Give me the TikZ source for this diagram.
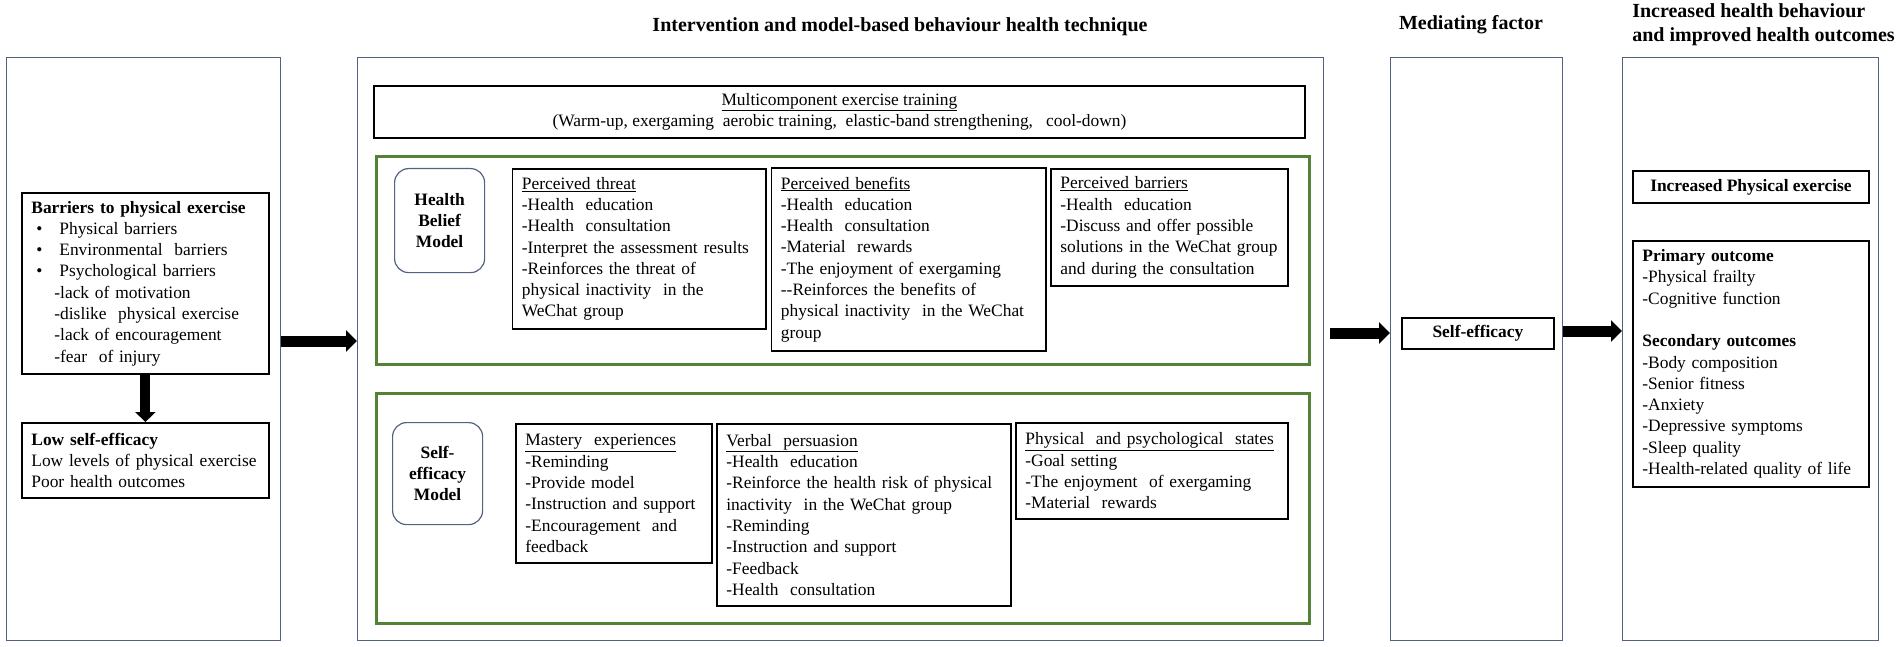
\documentclass[tikz,border=0pt]{standalone}
\usepackage{fontspec}
\setmainfont{Liberation Serif}
\usetikzlibrary{arrows.meta}
\definecolor{slate}{RGB}{84,98,130}
\definecolor{hgreen}{RGB}{84,130,53}
\newcommand\bodyf{\fontsize{17.4}{21.3}\selectfont\hyphenpenalty=10000\exhyphenpenalty=10000}
\newcommand\titlef{\fontsize{20}{24}\selectfont\bfseries}
\newcommand\bul[1]{\hspace*{5pt}\makebox[23pt][l]{\textbullet}#1}
\newcommand\subi[1]{\hspace*{23pt}#1}
\begin{document}
\begin{tikzpicture}[x=1pt,y=-1pt,
  outerbox/.style={draw=slate,line width=1.2pt,inner sep=0pt,anchor=north west},
  greenbox/.style={draw=hgreen,line width=3pt,inner sep=0pt,anchor=north west},
  blkbox/.style={draw=black,line width=1.8pt,align=left,inner xsep=9.5pt,inner ysep=0pt,font=\bodyf,anchor=north west},
  ctrbox/.style={draw=black,line width=1.8pt,align=center,inner sep=0pt,font=\bodyf,anchor=north west},
  modelbox/.style={draw=slate,line width=1.2pt,rounded corners=14pt,align=center,inner sep=0pt,font=\bodyf\bfseries,anchor=north west},
  titlenode/.style={font=\titlef,inner sep=0pt},
  blockarrow/.style={line width=11pt,-{Triangle[width=21pt,length=11pt]}},
  blockarrowv/.style={line width=10pt,-{Triangle[width=20pt,length=10pt]}}
]
\useasboundingbox (0,0) rectangle (1902,647);

% titles
\node[titlenode] (t1) at (900,27) {Intervention and model-based behaviour health technique};
\node[titlenode] (t2) at (1471,25) {Mediating factor};
\node[titlenode,align=left] (t3) at (1763.5,25) {Increased health behaviour\\and improved health outcomes};

% outer boxes
\node[outerbox,minimum width=274pt,minimum height=583pt] (boxA) at (6,57) {};
\node[outerbox,minimum width=966pt,minimum height=583pt] (boxB) at (357,57) {};
\node[outerbox,minimum width=172pt,minimum height=583pt] (boxC) at (1390,57) {};
\node[outerbox,minimum width=256pt,minimum height=583pt] (boxD) at (1622,57) {};

% box A
\node[blkbox,text width=228pt,minimum height=181pt] (barriers) at (21,192) {%
\textbf{Barriers to physical exercise}\\
\bul{Physical barriers}\\
\bul{Environmental\ \ barriers}\\
\bul{Psychological barriers}\\
\subi{-lack of motivation}\\
\subi{-dislike\ \ physical exercise}\\
\subi{-lack of encouragement}\\
\subi{-fear\ \ of injury}};
\node[blkbox,text width=228pt,minimum height=75pt] (lowse) at (21,422) {%
\textbf{Low self-efficacy}\\
Low levels of physical exercise\\
Poor health outcomes};

% box B
\node[ctrbox,minimum width=931pt,minimum height=52pt] (multi) at (373,85) {%
\underline{Multicomponent exercise training}\\
(Warm-up, exergaming\ \ aerobic training,\ \ elastic-band strengthening,\ \ \ cool-down)};

\node[greenbox,minimum width=933pt,minimum height=208pt] (hbm) at (375,155) {};
\node[modelbox,minimum width=90pt,minimum height=104pt] (hbmmodel) at (394,168) {Health\\Belief\\Model};
\node[blkbox,text width=234.5pt,minimum height=160pt] (threat) at (511.5,168) {%
\underline{Perceived threat}\\
-Health\ \ education\\
-Health\ \ consultation\\
-Interpret the assessment results\\
-Reinforces the threat of\\
physical inactivity\ \ in the\\
WeChat group};
\node[blkbox,text width=255.5pt,minimum height=183pt] (benefits) at (770.5,167) {%
\underline{Perceived benefits}\\
-Health\ \ education\\
-Health\ \ consultation\\
-Material\ \ rewards\\
-The enjoyment of exergaming\\
-{}-Reinforces the benefits of\\
physical inactivity\ \ in the WeChat\\
group};
\node[blkbox,text width=218pt,minimum height=117pt] (pbarriers) at (1050,168) {%
\underline{Perceived barriers}\\
-Health\ \ education\\
-Discuss and offer possible\\
solutions in the WeChat group\\
and during the consultation};

\node[greenbox,minimum width=933pt,minimum height=230pt] (sem) at (375,392) {};
\node[modelbox,minimum width=90pt,minimum height=102pt] (semmodel) at (392,422) {Self-\\efficacy\\Model};
\node[blkbox,text width=177pt,minimum height=139pt] (mastery) at (515,423) {%
\underline{Mastery\ \ experiences}\\
-Reminding\\
-Provide model\\
-Instruction and support\\
-Encouragement\ \ and\\
feedback};
\node[blkbox,text width=275pt,minimum height=182pt] (verbal) at (716,423) {%
\underline{Verbal\ \ persuasion}\\
-Health\ \ education\\
-Reinforce the health risk of physical\\
inactivity\ \ in the WeChat group\\
-Reminding\\
-Instruction and support\\
-Feedback\\
-Health\ \ consultation};
\node[blkbox,text width=253pt,minimum height=96pt] (states) at (1015,422) {%
\underline{Physical\ \ and psychological\ \ states}\\
-Goal setting\\
-The enjoyment\ \ of exergaming\\
-Material\ \ rewards};

% box C
\node[ctrbox,minimum width=152pt,minimum height=31pt,font=\bodyf\bfseries] (selfeff) at (1401,317) {Self-efficacy};

% box D
\node[ctrbox,minimum width=236pt,minimum height=32pt,font=\bodyf\bfseries] (incpe) at (1632,170) {Increased Physical exercise};
\node[blkbox,text width=217pt,minimum height=246pt] (outcomes) at (1632,240) {%
\textbf{Primary outcome}\\
-Physical frailty\\
-Cognitive function\\[21.3pt]
\textbf{Secondary outcomes}\\
-Body composition\\
-Senior fitness\\
-Anxiety\\
-Depressive symptoms\\
-Sleep quality\\
-Health-related quality of life};

% arrows
\draw[blockarrowv] (barriers.south) -- (lowse.north);
\draw[blockarrow] (boxA.east |- 0,341) -- (boxB.west |- 0,341);
\draw[blockarrow,shorten <=6pt] (boxB.east |- 0,333) -- (boxC.west |- 0,333);
\draw[blockarrow] (boxC.east |- 0,331) -- (boxD.west |- 0,331);
\end{tikzpicture}
\end{document}
